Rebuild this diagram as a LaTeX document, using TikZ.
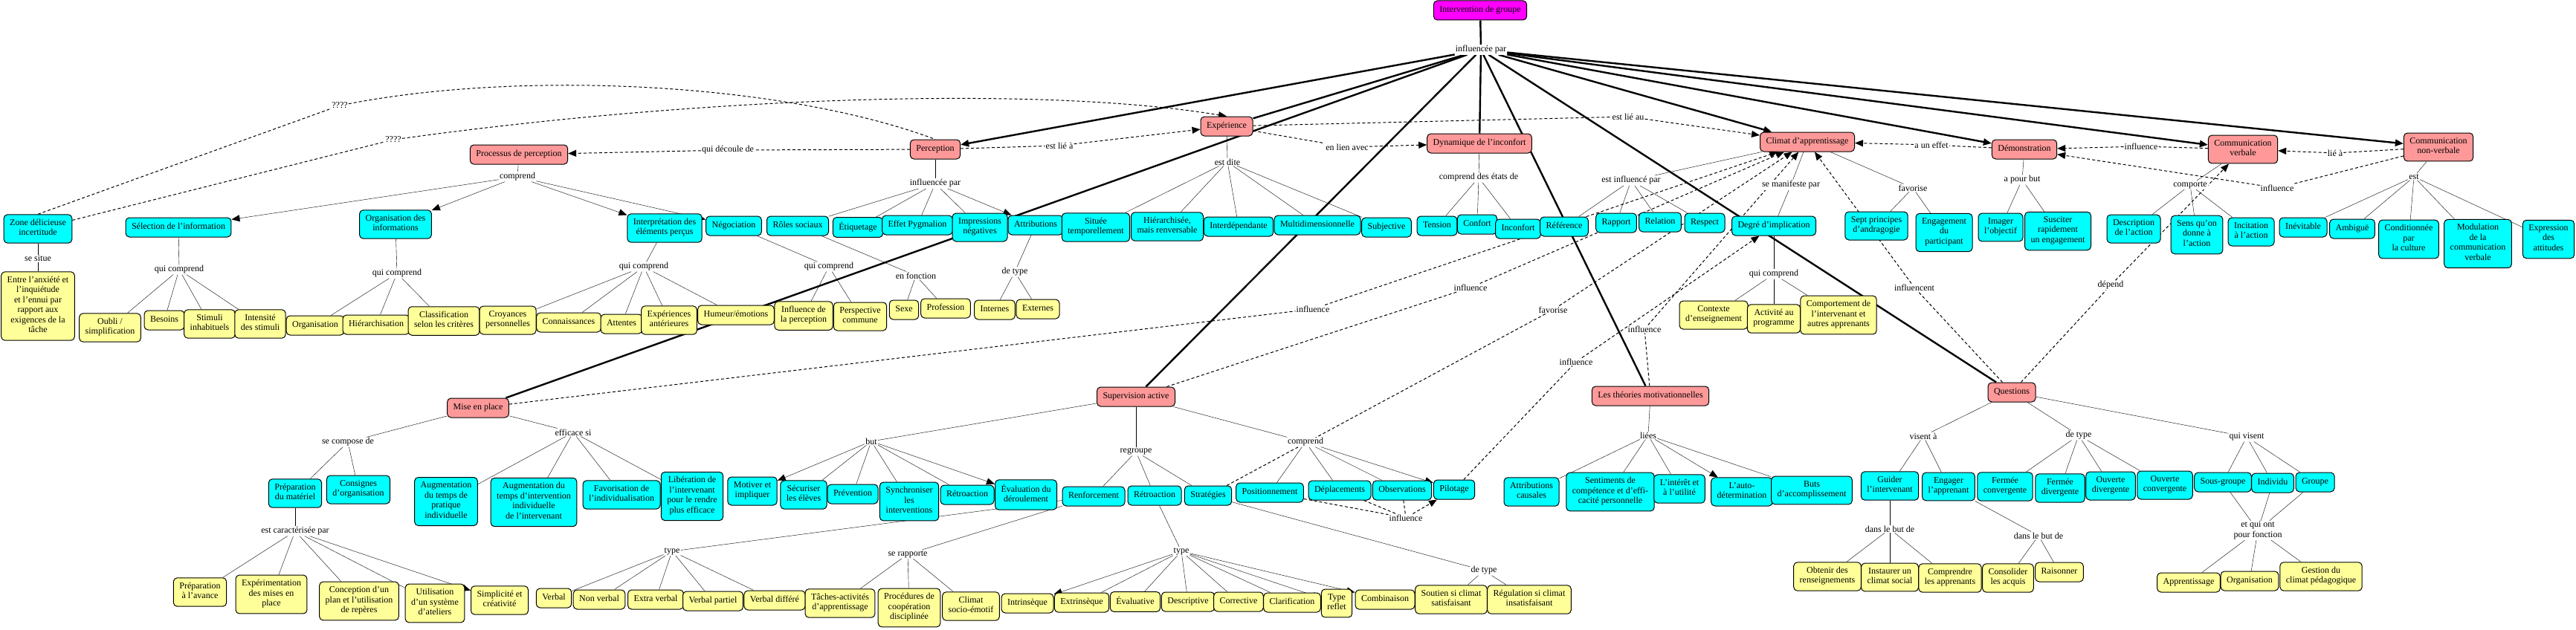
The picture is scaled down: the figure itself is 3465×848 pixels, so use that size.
\documentclass[tikz,border=0pt]{standalone}
\usepackage{fontspec}
\setmainfont{Liberation Serif}
\usetikzlibrary{arrows.meta,backgrounds}

\definecolor{pinkc}{RGB}{255,153,153}
\definecolor{cyanc}{RGB}{0,255,255}
\definecolor{yellowc}{RGB}{255,255,153}
\definecolor{magc}{RGB}{255,0,255}

\tikzset{
  concept/.style={draw, rounded corners=5pt, line width=1pt, align=center,
    inner xsep=8pt, inner ysep=6.25pt, font=\fontsize{12}{13.5}\selectfont,
    execute at begin node=\strut, execute at end node=\strut},
  phrase/.style={fill=white, inner sep=1pt, align=center,
    font=\fontsize{12}{13.5}\selectfont},
  thinlink/.style={line width=1pt},
  thicklink/.style={line width=2.4pt},
  crosslink/.style={line width=1pt, dash pattern=on 4pt off 3pt},
  tip/.style={-{Triangle[length=11pt,width=9pt]}}
}

\begin{document}
\begin{tikzpicture}[x=1pt,y=-1pt]
\useasboundingbox (0,0) rectangle (3465,848);

        \node[concept, fill=magc] (root) at (1991,14) {Intervention de groupe};

        \begin{scope}[every node/.style={concept, fill=pinkc}]
        \node (proc) at (698,208) {Processus de perception};
        \node (perc) at (1258,201) {Perception};
        \node (exper) at (1650,170) {Expérience};
        \node (dyn) at (1990,193) {Dynamique de l'inconfort};
        \node (clim) at (2431,191) {Climat d'apprentissage};
        \node (demo) at (2723,201) {Démonstration};
        \node (cverb) at (3017,201) {Communication\\verbale};
        \node (cnv) at (3280,198) {Communication\\non-verbale};
        \node (mise) at (643,549) {Mise en place};
        \node (sup) at (1528,534) {Supervision active};
        \node (theo) at (2220,533) {Les théories motivationnelles};
        \node (quest) at (2706,528) {Questions};
        \end{scope}

        \begin{scope}[every node/.style={concept, fill=cyanc}]
        \node (zone) at (51,308) {Zone délicieuse\\incertitude};
        \node (sel) at (240,306) {Sélection de l'information};
        \node (orgi) at (532,302) {Organisation des\\informations};
        \node (interp) at (894,307) {Interprétation des\\éléments perçus};
        \node (nego) at (987,304) {Négociation};
        \node (roles) at (1073,304) {Rôles sociaux};
        \node (etiq) at (1154,306) {Étiquetage};
        \node (pyg) at (1234,303) {Effet Pygmalion};
        \node (impr) at (1318,306) {Impressions\\négatives};
        \node (attr) at (1393,303) {Attributions};
        \node (situ) at (1474,306) {Située\\temporellement};
        \node (hier) at (1570,305) {Hiérarchisée,\\mais renversable};
        \node (inter) at (1666,305) {Interdépendante};
        \node (multi) at (1772,303) {Multidimensionnelle};
        \node (subj) at (1865,306) {Subjective};
        \node (tens) at (1933,304) {Tension};
        \node (conf) at (1987,302) {Confort};
        \node (inconf) at (2042,308) {Inconfort};
        \node (refe) at (2104,305) {Référence};
        \node (rapp) at (2174,300) {Rapport};
        \node (rela) at (2233,299) {Relation};
        \node (resp) at (2293,300) {Respect};
        \node (degre) at (2386,304) {Degré d'implication};
        \node (sept) at (2524,304) {Sept principes\\d'andragogie};
        \node (engp) at (2615,313) {Engagement\\du\\participant};
        \node (imag) at (2691,306) {Imager\\l'objectif};
        \node (susc) at (2768,311) {Susciter\\rapidement\\un engagement};
        \node (descr) at (2870,308) {Description\\de l'action};
        \node (sens) at (2955,316) {Sens qu'on\\donne à\\l'action};
        \node (incit) at (3028,312) {Incitation\\à l'action};
        \node (inev) at (3098,306) {Inévitable};
        \node (ambi) at (3164,308) {Ambiguë};
        \node (condi) at (3240,322) {Conditionnée\\par\\la culture};
        \node (modul) at (3333,328) {Modulation\\de la\\communication\\verbale};
        \node (expr) at (3428,322) {Expression\\des\\attitudes};

        \node (prepm) at (397,664) {Préparation\\du matériel};
        \node (consi) at (482,659) {Consignes\\d'organisation};
        \node (augp) at (600,675) {Augmentation\\du temps de\\pratique\\individuelle};
        \node (augi) at (718,676) {Augmentation du\\temps d'intervention\\individuelle\\de l'intervenant};
        \node (favo) at (836,666) {Favorisation de\\l'individualisation};
        \node (libe) at (931,668) {Libération de\\l'intervenant\\pour le rendre\\plus efficace};
        \node (moti) at (1012,661) {Motiver et\\impliquer};
        \node (secu) at (1081,666) {Sécuriser\\les élèves};
        \node (prev) at (1147,665) {Prévention};
        \node (sync) at (1223,675) {Synchroniser\\les\\interventions};
        \node (retroa) at (1301,666) {Rétroaction};
        \node (evalu) at (1380,666) {Évaluation du\\déroulement};
        \node (renf) at (1471,668) {Renforcement};
        \node (retrob) at (1553,667) {Rétroaction};
        \node (strat) at (1625,667) {Stratégies};
        \node (posi) at (1708,663) {Positionnement};
        \node (depl) at (1802,660) {Déplacements};
        \node (obse) at (1886,660) {Observations};
        \node (pilo) at (1956,659) {Pilotage};
        \node (attc) at (2060,662) {Attributions\\causales};
        \node (senti) at (2166,662) {Sentiments de\\compétence et d'effi-\\cacité personnelle};
        \node (inte) at (2259,658) {L'intérêt et\\à l'utilité};
        \node (autod) at (2343,662) {L'auto-\\détermination};
        \node (butsa) at (2437,660) {Buts\\d'accomplissement};
        \node (guid) at (2542,654) {Guider\\l'intervenant};
        \node (enga) at (2621,655) {Engager\\l'apprenant};
        \node (fconv) at (2697,655) {Fermée\\convergente};
        \node (fdiv) at (2771,657) {Fermée\\divergente};
        \node (odiv) at (2839,654) {Ouverte\\divergente};
        \node (oconv) at (2912,653) {Ouverte\\convergente};
        \node (sousg) at (2990,649) {Sous-groupe};
        \node (indiv) at (3057,650) {Individu};
        \node (grou) at (3114,649) {Groupe};
        \end{scope}

        \begin{scope}[every node/.style={concept, fill=yellowc}]
        \node (entre) at (51,412) {Entre l'anxiété et\\l'inquiétude\\et l'ennui par\\rapport aux\\exigences de la\\tâche};
        \node (oubli) at (148,441) {Oubli /\\simplification};
        \node (besoi) at (221,431) {Besoins};
        \node (stimu) at (282,436) {Stimuli\\inhabituels};
        \node (intens) at (350,436) {Intensité\\des stimuli};
        \node (organ) at (424,438) {Organisation};
        \node (hiera) at (506,437) {Hiérarchisation};
        \node (class) at (597,432) {Classification\\selon les critères};
        \node (croy) at (683,431) {Croyances\\personnelles};
        \node (conn) at (765,434) {Connaissances};
        \node (atte) at (836,436) {Attentes};
        \node (expa) at (900,431) {Expériences\\antérieures};
        \node (hume) at (990,424) {Humeur/émotions};
        \node (infl) at (1081,425) {Influence de\\la perception};
        \node (persp) at (1157,426) {Perspective\\commune};
        \node (sexe) at (1216,417) {Sexe};
        \node (prof) at (1272,415) {Profession};
        \node (interne) at (1338,417) {Internes};
        \node (externe) at (1396,416) {Externes};
        \node (ctxt) at (2305,424) {Contexte\\d'enseignement};
        \node (activ) at (2386,429) {Activité au\\programme};
        \node (compo) at (2473,424) {Comportement de\\l'intervenant et\\autres apprenants};
        \node (prepa) at (269,797) {Préparation\\à l'avance};
        \node (expe) at (365,800) {Expérimentation\\des mises en\\place};
        \node (conce) at (483,809) {Conception d'un\\plan et l'utilisation\\de repères};
        \node (utili) at (585,812) {Utilisation\\d'un système\\d'ateliers};
        \node (simpl) at (672,808) {Simplicité et\\créativité};
        \node (verb) at (745,805) {Verbal};
        \node (nverb) at (806,807) {Non verbal};
        \node (xverb) at (882,807) {Extra verbal};
        \node (pverb) at (959,809) {Verbal partiel};
        \node (dverb) at (1042,808) {Verbal différé};
        \node (tach) at (1130,812) {Tâches-activités\\d'apprentissage};
        \node (proce) at (1223,818) {Procédures de\\coopération\\disciplinée};
        \node (csoc) at (1306,816) {Climat\\socio-émotif};
        \node (intri) at (1382,812) {Intrinsèque};
        \node (extri) at (1455,811) {Extrinsèque};
        \node (evali) at (1527,810) {Évaluative};
        \node (descri) at (1598,810) {Descriptive};
        \node (corr) at (1666,810) {Corrective};
        \node (clar) at (1738,811) {Clarification};
        \node (trefl) at (1798,812) {Type\\reflet};
        \node (combi) at (1863,807) {Combinaison};
        \node (sout) at (1952,807) {Soutien si climat\\satisfaisant};
        \node (regu) at (2057,807) {Régulation si climat\\insatisfaisant};
        \node (obten) at (2458,776) {Obtenir des\\renseignements};
        \node (instau) at (2542,777) {Instaurer un\\climat social};
        \node (compr) at (2623,778) {Comprendre\\les apprenants};
        \node (conso) at (2701,778) {Consolider\\les acquis};
        \node (raiso) at (2770,770) {Raisonner};
        \node (appr) at (2944,784) {Apprentissage};
        \node (orga) at (3026,782) {Organisation};
        \node (gest) at (3122,776) {Gestion du\\climat pédagogique};
        \end{scope}

        \begin{scope}[every node/.style={phrase}]
        \node (ip) at (1992,67) {influencée par};
        \node (l_situe) at (51,348) {se situe};
        \node (l_selq) at (241,363) {qui comprend};
        \node (l_orgq) at (534,368) {qui comprend};
        \node (l_comp) at (696,238) {comprend};
        \node (l_decoule) at (979,202) {qui découle de};
        \node (l_q1) at (457,142) {????};
        \node (l_q2) at (529,188) {????};
        \node (l_intq) at (866,359) {qui comprend};
        \node (l_negq) at (1115,359) {qui comprend};
        \node (l_percip) at (1258,247) {influencée par};
        \node (l_fonc) at (1232,371) {en fonction};
        \node (l_dtype) at (1365,366) {de type};
        \node (l_estlie) at (1425,196) {est lié à};
        \node (l_dite) at (1651,218) {est dite};
        \node (l_lien) at (1812,198) {en lien avec};
        \node (l_etats) at (1989,239) {comprend des états de};
        \node (l_lieau) at (2190,157) {est lié au};
        \node (l_estinf) at (2194,243) {est influencé par};
        \node (l_manif) at (2409,249) {se manifeste par};
        \node (l_favc) at (2573,253) {favorise};
        \node (l_effet) at (2598,195) {a un effet};
        \node (l_pour) at (2720,242) {a pour but};
        \node (l_infd) at (2880,197) {influence};
        \node (l_liea) at (3141,206) {lié à};
        \node (l_infn) at (3063,253) {influence};
        \node (l_comporte) at (2946,249) {comporte};
        \node (l_est) at (3247,238) {est};
        \node (l_degq) at (2386,369) {qui comprend};
        \node (l_infcnt) at (2575,387) {influencent};
        \node (l_dep) at (2839,384) {dépend};
        \node (l_infm) at (1766,416) {influence};
        \node (l_infs) at (1978,387) {influence};
        \node (l_favs) at (2089,417) {favorise};
        \node (l_infp) at (2120,487) {influence};
        \node (l_inft) at (2212,443) {influence};
        \node (l_compo) at (468,595) {se compose de};
        \node (l_effi) at (771,582) {efficace si};
        \node (l_cara) at (397,715) {est caractérisée par};
        \node (l_but) at (1172,594) {but};
        \node (l_regr) at (1528,608) {regroupe};
        \node (l_compr) at (1756,595) {comprend};
        \node (l_infb) at (1891,697) {influence};
        \node (l_typer) at (904,742) {type};
        \node (l_rapp) at (1221,746) {se rapporte};
        \node (l_typet) at (1589,742) {type};
        \node (l_detype) at (1996,768) {de type};
        \node (l_liees) at (2217,586) {liées};
        \node (l_visent) at (2587,587) {visent à};
        \node (l_qtype) at (2796,586) {de type};
        \node (l_but1) at (2542,712) {dans le but de};
        \node (l_but2) at (2742,721) {dans le but de};
        \node (l_qvis) at (3022,588) {qui visent};
        \node (l_fonct) at (3037,714) {et qui ont\\pour fonction};
        \end{scope}

        \begin{scope}[on background layer, thinlink]
        \draw[thicklink] (root) -- (ip);
        \foreach \x in {exper,mise,sup,dyn,theo,quest}
                \draw[thicklink] (ip) -- (\x);
        \foreach \x in {perc,clim,demo,cverb,cnv}
                \draw[thicklink,tip] (ip) -- (\x);

        \draw (zone) -- (l_situe) -- (entre);
        \draw (proc) -- (l_comp);
        \foreach \x in {sel,orgi,interp,nego}
                \draw[tip] (l_comp) -- (\x);
        \draw (sel) -- (l_selq);
        \foreach \x in {oubli,besoi,stimu,intens}
                \draw (l_selq) -- (\x);
        \draw (orgi) -- (l_orgq);
        \foreach \x in {organ,hiera,class}
                \draw (l_orgq) -- (\x);
        \draw (interp) -- (l_intq);
        \foreach \x in {croy,conn,atte,expa,hume}
                \draw (l_intq) -- (\x);
        \draw (nego) -- (l_negq);
        \foreach \x in {infl,persp}
                \draw (l_negq) -- (\x);
        \draw (perc) -- (l_percip);
        \foreach \x in {roles,etiq,pyg,impr}
                \draw (l_percip) -- (\x);
        \draw[tip] (l_percip) -- (attr);
        \draw (roles) -- (l_fonc);
        \foreach \x in {sexe,prof}
                \draw (l_fonc) -- (\x);
        \draw (attr) -- (l_dtype);
        \foreach \x in {interne,externe}
                \draw (l_dtype) -- (\x);
        \draw (exper) -- (l_dite);
        \foreach \x in {situ,hier,inter,multi,subj}
                \draw (l_dite) -- (\x);
        \draw (dyn) -- (l_etats);
        \foreach \x in {tens,conf,inconf}
                \draw (l_etats) -- (\x);
        \draw (clim) -- (l_estinf);
        \foreach \x in {refe,rapp,rela,resp}
                \draw (l_estinf) -- (\x);
        \draw (clim) -- (l_manif) -- (degre);
        \draw (clim) -- (l_favc);
        \foreach \x in {sept,engp}
                \draw (l_favc) -- (\x);
        \draw (degre) -- (l_degq);
        \foreach \x in {ctxt,activ,compo}
                \draw (l_degq) -- (\x);
        \draw (demo) -- (l_pour);
        \foreach \x in {imag,susc}
                \draw (l_pour) -- (\x);
        \draw (cverb) -- (l_comporte);
        \foreach \x in {descr,sens,incit}
                \draw (l_comporte) -- (\x);
        \draw (cnv) -- (l_est);
        \foreach \x in {inev,ambi,condi,modul,expr}
                \draw (l_est) -- (\x);

        \draw (mise) -- (l_compo);
        \foreach \x in {prepm,consi}
                \draw (l_compo) -- (\x);
        \draw (mise) -- (l_effi);
        \foreach \x in {augp,augi,favo,libe}
                \draw (l_effi) -- (\x);
        \draw (prepm) -- (l_cara);
        \foreach \x in {prepa,expe,conce,utili}
                \draw (l_cara) -- (\x);
        \draw[tip] (l_cara) -- (simpl);
        \draw (sup) -- (l_but);
        \foreach \x in {secu,prev,sync,retroa}
                \draw (l_but) -- (\x);
        \foreach \x in {moti,evalu}
                \draw[tip] (l_but) -- (\x);
        \draw (sup) -- (l_regr);
        \foreach \x in {renf,retrob,strat}
                \draw (l_regr) -- (\x);
        \draw (sup) -- (l_compr);
        \foreach \x in {posi,depl,obse}
                \draw (l_compr) -- (\x);
        \draw[tip] (l_compr) -- (pilo);
        \draw (renf) -- (l_typer);
        \foreach \x in {verb,nverb,xverb,pverb,dverb}
                \draw (l_typer) -- (\x);
        \draw (renf) -- (l_rapp);
        \foreach \x in {tach,proce,csoc}
                \draw (l_rapp) -- (\x);
        \draw (retrob) -- (l_typet);
        \foreach \x in {extri,evali,descri,corr,clar}
                \draw (l_typet) -- (\x);
        \foreach \x in {intri,trefl,combi}
                \draw[tip] (l_typet) -- (\x);
        \draw (strat) -- (l_detype);
        \foreach \x in {sout,regu}
                \draw (l_detype) -- (\x);
        \draw (theo) -- (l_liees);
        \foreach \x in {attc,senti,inte,butsa}
                \draw (l_liees) -- (\x);
        \draw[tip] (l_liees) -- (autod);
        \draw (quest) -- (l_visent);
        \foreach \x in {guid,enga}
                \draw (l_visent) -- (\x);
        \draw (guid) -- (l_but1);
        \foreach \x in {obten,instau,compr}
                \draw (l_but1) -- (\x);
        \draw (enga) -- (l_but2);
        \foreach \x in {conso,raiso}
                \draw (l_but2) -- (\x);
        \draw (quest) -- (l_qtype);
        \foreach \x in {fconv,fdiv,odiv,oconv}
                \draw (l_qtype) -- (\x);
        \draw (quest) -- (l_qvis);
        \foreach \x in {sousg,indiv,grou}
                \draw (l_qvis) -- (\x);
        \foreach \x in {sousg,indiv,grou}
                \draw (\x) -- (l_fonct);
        \foreach \x in {appr,orga,gest}
                \draw (l_fonct) -- (\x);

        \draw[crosslink] (zone.north) -- (l_q1);
        \draw[crosslink] (l_q1) .. controls (700,95) and (1050,110) .. (perc.north);
        \draw[crosslink] (zone) -- (l_q2);
        \draw[crosslink,tip] (l_q2) .. controls (950,130) and (1400,115) .. (exper.north);
        \draw[crosslink] (perc) -- (l_decoule);
        \draw[crosslink,tip] (l_decoule) -- (proc);
        \draw[crosslink] (perc) -- (l_estlie);
        \draw[crosslink,tip] (l_estlie) -- (exper);
        \draw[crosslink] (exper) -- (l_lien);
        \draw[crosslink,tip] (l_lien) -- (dyn);
        \draw[crosslink] (exper) -- (l_lieau);
        \draw[crosslink,tip] (l_lieau) -- (clim);
        \draw[crosslink] (demo) -- (l_effet);
        \draw[crosslink,tip] (l_effet) -- (clim);
        \draw[crosslink] (cverb) -- (l_infd);
        \draw[crosslink,tip] (l_infd) -- (demo);
        \draw[crosslink] (cnv) -- (l_liea);
        \draw[crosslink,tip] (l_liea) -- (cverb);
        \draw[crosslink] (cnv) -- (l_infn);
        \draw[crosslink,tip] (l_infn) -- (demo);
        \draw[crosslink] (mise) -- (l_infm);
        \draw[crosslink,tip] (l_infm) -- (clim);
        \draw[crosslink] (sup) -- (l_infs);
        \draw[crosslink,tip] (l_infs) -- (clim);
        \draw[crosslink] (strat) -- (l_favs);
        \draw[crosslink,tip] (l_favs) -- (clim);
        \draw[crosslink] (theo) -- (l_inft);
        \draw[crosslink,tip] (l_inft) -- (clim);
        \draw[crosslink] (pilo) -- (l_infp);
        \draw[crosslink,tip] (l_infp) -- (degre);
        \draw[crosslink] (quest) -- (l_infcnt);
        \draw[crosslink,tip] (l_infcnt) -- (clim);
        \draw[crosslink] (quest) -- (l_dep);
        \draw[crosslink,tip] (l_dep) -- (cverb);
        \foreach \x in {posi,depl,obse}
                \draw[crosslink] (\x) -- (l_infb);
        \draw[crosslink,tip] (l_infb) -- (pilo);
        \end{scope}

\end{tikzpicture}
\end{document}
